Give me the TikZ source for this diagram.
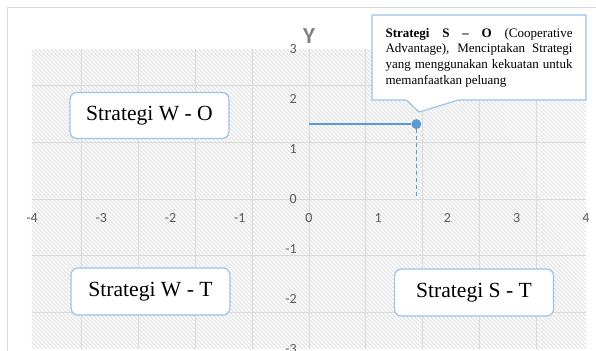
\documentclass[tikz,border=0pt]{standalone}
\usepackage{fontspec}
\setmainfont{Liberation Serif}
\newfontfamily\chartfont{Carlito}
\usetikzlibrary{shapes.callouts}
\definecolor{gridgray}{HTML}{D9D9D9}
\definecolor{hatchgray}{HTML}{DCDCDC}
\definecolor{labelgray}{HTML}{595959}
\definecolor{boxblue}{HTML}{9DC3E6}
\definecolor{pointblue}{HTML}{5B9BD5}
\tikzset{
  quadbox/.style={draw=boxblue, line width=0.6pt, fill=white, rounded corners=3.5pt,
    minimum width=79.5pt, minimum height=23pt, font=\fontsize{10.8}{13}\selectfont},
  ticklabel/.style={font=\chartfont\fontsize{7}{8}\selectfont, text=labelgray, inner sep=0pt}
}
\begin{document}
\begin{tikzpicture}[x=34.625pt, y=25pt]
  \useasboundingbox (-4.462,-3.02) rectangle (4.144,3.98);
  %chart frame
  \draw[gridgray, line width=0.5pt] (-4.347,-3.2) -- (-4.347,3.84) -- (4.3,3.84);
  %hatched plot area and grid
  \begin{scope}
    \clip (-4,-3) rectangle (4,3);
    \foreach \i in {0,...,215}
      \draw[hatchgray, line width=0.4pt] (-8.35+0.05776*\i,3) -- ++(4.332,-6);
  \end{scope}
  \draw[gridgray, line width=0.5pt] (-4,-3) grid (4,3);
  %tick labels
  \foreach \x in {-4,...,4} \node[ticklabel] (xt\x) at (\x,-0.38) {\x};
  \foreach \y in {-3,...,3} \node[ticklabel, anchor=east] (yt\y) at (-0.17,\y) {\y};
  \node[font=\chartfont\bfseries\fontsize{11.5}{12}\selectfont, text=gray] (ylabel) at (0,3.26) {Y};
  %point with its guide lines
  \coordinate (y0) at (0,1.5);
  \coordinate (x0) at (1.55,0);
  \node[circle, fill=pointblue, inner sep=0pt, minimum size=5pt] (pt) at (1.55,1.5) {};
  \draw[pointblue, line width=0.6pt] (y0) -- (pt);
  \draw[pointblue, line width=0.6pt, dash pattern=on 2pt off 1.5pt] (pt) -- (x0);
  %quadrant boxes
  \node[quadbox] (wo) at (-2.303,1.67) {Strategi W - O};
  \node[quadbox, minimum height=23.5pt] (wt) at (-2.289,-1.85) {Strategi W - T};
  \node[quadbox, minimum height=23.5pt] (st) at (2.383,-1.87) {Strategi S - T};
  %callout for S - O
  \coordinate (tip) at (1.59,1.74);
  \node[rectangle callout, callout absolute pointer={(tip)}, callout pointer width=26pt,
    draw=boxblue, line width=0.6pt, fill=white, minimum width=107pt, minimum height=42.5pt,
    inner xsep=6.75pt, text width=93.5pt, align=justify, font=\fontsize{6.5}{7.8}\selectfont]
    (so) at (2.455,2.83) {{\bfseries Strategi S -- O} (Cooperative \linebreak Advantage), Menciptakan Strategi \linebreak yang menggunakan kekuatan untuk \linebreak memanfaatkan peluang};
\end{tikzpicture}
\end{document}
